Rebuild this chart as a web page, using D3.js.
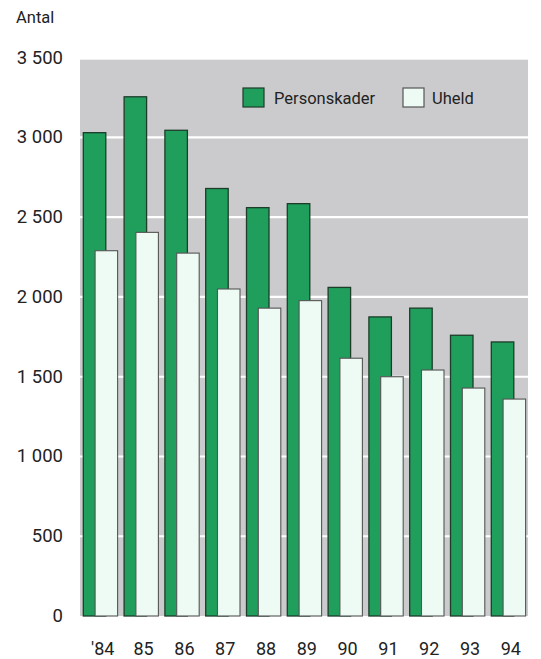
<!DOCTYPE html>
<html>
<head>
<meta charset="utf-8">
<script src="https://cdn.jsdelivr.net/npm/d3@7"></script>
<style>
  html, body { margin: 0; padding: 0; background: #ffffff; }
  svg { display: block; }
  text { font-family: Roboto, "Noto Sans", sans-serif; fill: #222; }
</style>
</head>
<body>
<div id="chart"></div>
<script>
const years = ["'84", "85", "86", "87", "88", "89", "90", "91", "92", "93", "94"];
const personskader = [3030, 3255, 3045, 2680, 2560, 2585, 2060, 1875, 1930, 1760, 1718];
const uheld = [2290, 2405, 2275, 2050, 1930, 1977, 1616, 1500, 1542, 1429, 1360];
const yTicks = [0, 500, 1000, 1500, 2000, 2500, 3000, 3500];
const yTickLabels = ["0", "500", "1 000", "1 500", "2 000", "2 500", "3 000", "3 500"];
const seriesNames = ["Personskader", "Uheld"];
const colors = { green: "#1f9e5c", greenStroke: "#1d3d2a", pale: "#eefbf4", paleStroke: "#555" };

const W = 541, H = 659;
const svg = d3.select("#chart").append("svg").attr("width", W).attr("height", H);

const plotLeft = 80, plotRight = 528;
const y = d3.scaleLinear().domain([0, 3500]).range([616, 57.7]);
const step = 40.8;
const x = d3.scaleBand().domain(years).range([83.3, 83.3 + step * years.length]).padding(0);
const barW = 22.5, offset = 11.8;

// background
svg.append("rect")
  .attr("x", plotLeft).attr("y", y(3500) + 2)
  .attr("width", plotRight - plotLeft).attr("height", y(0) - y(3500) - 2)
  .attr("fill", "#cbcbcd");

// gridlines
svg.append("g").selectAll("line")
  .data(yTicks.filter(t => t > 0 && t < 3500))
  .join("line")
  .attr("x1", plotLeft).attr("x2", plotRight)
  .attr("y1", d => y(d)).attr("y2", d => y(d))
  .attr("stroke", "#ffffff").attr("stroke-width", 2.2);

// y labels
svg.append("g").selectAll("text")
  .data(yTicks)
  .join("text")
  .attr("x", 63).attr("y", d => y(d))
  .attr("text-anchor", "end").attr("dominant-baseline", "central")
  .attr("font-size", 18.5)
  .text((d, i) => yTickLabels[i]);

svg.append("text").attr("x", 16).attr("y", 17.5)
  .attr("dominant-baseline", "central").attr("font-size", 16.5).text("Antal");

// bars
const g = svg.append("g");
g.selectAll("rect.p")
  .data(years.map((yr, i) => ({ yr, v: personskader[i] })))
  .join("rect").attr("class", "p")
  .attr("x", d => x(d.yr)).attr("width", barW)
  .attr("y", d => y(d.v)).attr("height", d => y(0) - y(d.v))
  .attr("fill", colors.green).attr("stroke", colors.greenStroke).attr("stroke-width", 1.3);

g.selectAll("rect.u")
  .data(years.map((yr, i) => ({ yr, v: uheld[i] })))
  .join("rect").attr("class", "u")
  .attr("x", d => x(d.yr) + offset).attr("width", barW)
  .attr("y", d => y(d.v)).attr("height", d => y(0) - y(d.v))
  .attr("fill", colors.pale).attr("stroke", colors.paleStroke).attr("stroke-width", 1.1);

// x labels
svg.append("g").selectAll("text")
  .data(years)
  .join("text")
  .attr("x", d => x(d) + 19.5)
  .attr("y", 648)
  .attr("text-anchor", "middle").attr("dominant-baseline", "central")
  .attr("font-size", 18)
  .text(d => d);

// legend
const legend = [
  { name: seriesNames[0], fill: colors.green, stroke: colors.greenStroke, sx: 243, tx: 274 },
  { name: seriesNames[1], fill: colors.pale, stroke: colors.paleStroke, sx: 403, tx: 432 }
];
const lg = svg.append("g");
lg.selectAll("rect").data(legend).join("rect")
  .attr("x", d => d.sx).attr("y", 88).attr("width", 21).attr("height", 19)
  .attr("fill", d => d.fill).attr("stroke", d => d.stroke).attr("stroke-width", 1.2);
lg.selectAll("text").data(legend).join("text")
  .attr("x", d => d.tx).attr("y", 98)
  .attr("dominant-baseline", "central").attr("font-size", 16.5)
  .text(d => d.name);
</script>
</body>
</html>
